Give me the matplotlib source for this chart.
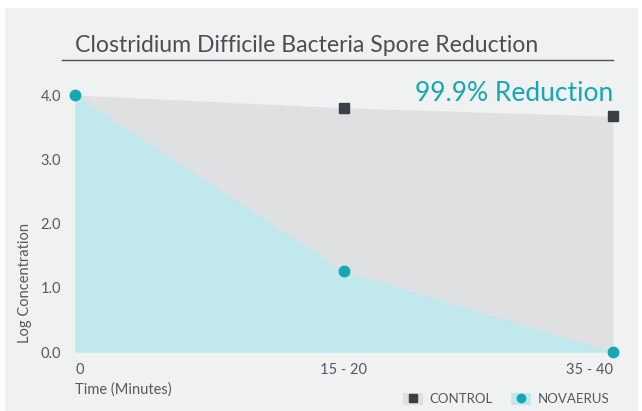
import matplotlib
matplotlib.use("Agg")
import matplotlib.pyplot as plt
from matplotlib.patches import Rectangle
from matplotlib.lines import Line2D
from matplotlib.legend_handler import HandlerTuple

categories = ["0", "15 - 20", "35 - 40"]
control = [4.0, 3.80, 3.67]
novaerus = [4.0, 1.26, 0.0]
yticks = [0.0, 1.0, 2.0, 3.0, 4.0]

TEAL = "#14a7b6"
LIGHTBLUE = "#c1e8ec"
GRAYFILL = "#dfe0e2"
DARK = "#3a4047"
TXT = "#555a5f"
FONT = "Lato"
WT = "normal"

W, H = 642, 411
fig = plt.figure(figsize=(W / 100, H / 100), dpi=100)
fig.patch.set_facecolor("white")
fig.add_artist(Rectangle((5 / W, 0), (638 - 5) / W, (411 - 8) / H,
                         transform=fig.transFigure, facecolor="#f0f1f1",
                         edgecolor="none", zorder=-10))

ax = fig.add_axes([75 / W, (H - 352) / H, (613 - 75) / W, (352 - 95) / H])
ax.set_facecolor("none")
x = list(range(len(categories)))
ax.fill_between(x, 0, control, color=GRAYFILL, lw=0, zorder=1)
ax.fill_between(x, 0, novaerus, color=LIGHTBLUE, lw=0, zorder=2)
ax.plot(x[1:], control[1:], ls="none", marker="s", ms=7, color=DARK, clip_on=False, zorder=4)
ax.plot(x, novaerus, ls="none", marker="o", ms=7.5, color=TEAL, clip_on=False, zorder=5)

ax.set_xlim(0, 2)
ax.set_ylim(0, 4)
ax.set_xticks(x)
ax.set_xticklabels(categories)
ax.set_yticks(yticks)
ax.set_yticklabels([f"{v:.1f}" for v in yticks])
for lab in ax.get_xticklabels() + ax.get_yticklabels():
    lab.set_fontfamily(FONT)
    lab.set_fontweight(WT)
    lab.set_fontsize(10.5)
    lab.set_color(TXT)
xl = ax.get_xticklabels()
xl[0].set_horizontalalignment("left")
xl[2].set_horizontalalignment("right")
ax.tick_params(length=0, pad=8)
ax.tick_params(axis="y", pad=10)
for s in ax.spines.values():
    s.set_visible(False)

fig.text(25 / W, 1 - 283 / H, "Log Concentration", rotation=90, ha="center", va="center",
         fontfamily=FONT, fontweight=WT, fontsize=10.5, color=TXT)
fig.text(75 / W, 1 - 390 / H, "Time (Minutes)", ha="left", va="center",
         fontfamily=FONT, fontweight=WT, fontsize=10.5, color=TXT)

fig.text(75 / W, 1 - 45 / H, "Clostridium Difficile Bacteria Spore Reduction", ha="left",
         va="center", fontfamily=FONT, fontweight=WT, fontsize=16.6, color="#4a4f55")
fig.add_artist(Line2D([62 / W, 613 / W], [1 - 60 / H, 1 - 60 / H], color="#4a4f55", lw=1))
fig.text(613 / W, 1 - 93 / H, "99.9% Reduction", ha="right", va="center",
         fontfamily=FONT, fontweight=WT, fontsize=19, color=TEAL)

h1 = (Rectangle((0, 0), 1, 1, facecolor=GRAYFILL, edgecolor="none"),
      Line2D([], [], ls="none", marker="s", ms=6, color=DARK))
h2 = (Rectangle((0, 0), 1, 1, facecolor=LIGHTBLUE, edgecolor="none"),
      Line2D([], [], ls="none", marker="o", ms=6, color=TEAL))
leg = fig.legend([h1, h2], ["CONTROL", "NOVAERUS"], loc="center right",
                 bbox_to_anchor=(616 / W, 1 - 399 / H), ncol=2, frameon=False,
                 handler_map={tuple: HandlerTuple(ndivide=1)},
                 prop={"family": FONT, "weight": WT, "size": 9.5}, handlelength=1.5,
                 handleheight=1.0, handletextpad=0.5, columnspacing=1.4, borderpad=0)
for t in leg.get_texts():
    t.set_color(TXT)

fig.savefig("out.png", dpi=100)
